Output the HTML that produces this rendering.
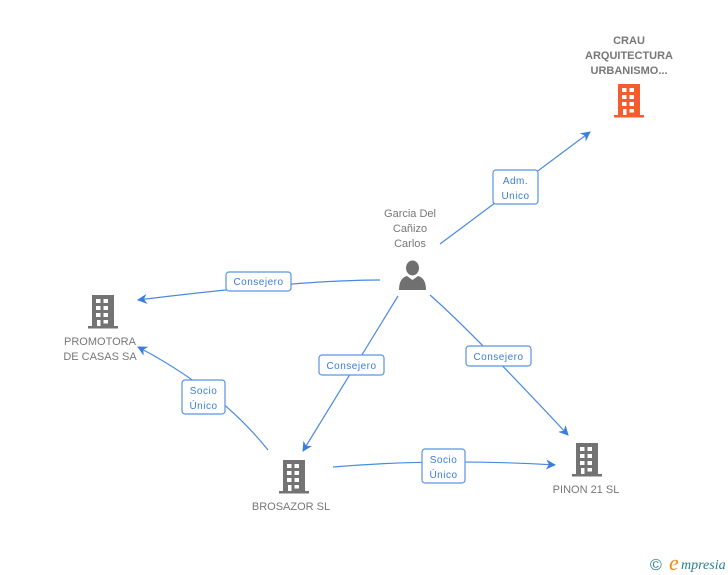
<!DOCTYPE html>
<html><head><meta charset="utf-8"><style>
html,body{margin:0;padding:0;background:#fff;}
svg{display:block;font-family:"Liberation Sans",sans-serif;}
.lbl{font-size:11px;fill:#777;text-anchor:middle;}
.el{font-size:10px;fill:#3b7ddd;text-anchor:middle;letter-spacing:0.5px;}
.box{fill:#fff;stroke:#5b93e0;stroke-width:1.2;}
.ln{stroke:#4a8ae0;stroke-width:1.2;fill:none;}
</style></head><body>
<svg width="728" height="575" viewBox="0 0 728 575" xmlns="http://www.w3.org/2000/svg">
<defs>
<symbol id="b" viewBox="0 0 30 34">
<path d="M4 0H26V31H4Z M0 31H30V33.5H0Z"/>
<g fill="#fff">
<rect x="8" y="4" width="4.5" height="4"/><rect x="15.5" y="4" width="4.5" height="4"/>
<rect x="8" y="11" width="4.5" height="4"/><rect x="15.5" y="11" width="4.5" height="4"/>
<rect x="8" y="18" width="4.5" height="4"/><rect x="15.5" y="18" width="4.5" height="4"/>
<rect x="9" y="25" width="3.5" height="6"/><rect x="15.5" y="25" width="4.5" height="3.5"/>
</g>
</symbol>
<marker id="a" markerWidth="10" markerHeight="10" refX="9" refY="5" orient="auto" markerUnits="userSpaceOnUse">
<path d="M0,0 L10,5 L0,10 L3,5Z" fill="#3b7ddd"/>
</marker>
</defs>

<path class="ln" d="M440 244 L590 132" marker-end="url(#a)"/>
<path class="ln" d="M380 280 Q300 280 138 300" marker-end="url(#a)"/>
<path class="ln" d="M398 296 L303 451" marker-end="url(#a)"/>
<path class="ln" d="M430 295 Q470 330 568 435" marker-end="url(#a)"/>
<path class="ln" d="M268 450 Q220 390 138 347" marker-end="url(#a)"/>
<path class="ln" d="M333 467 Q440 458 555 465" marker-end="url(#a)"/>

<rect class="box" x="493" y="170" width="45" height="34" rx="3"/>
<text class="el" x="515.5" y="184">Adm.</text><text class="el" x="515.5" y="199">Unico</text>
<rect class="box" x="226" y="272" width="65" height="19" rx="3"/>
<text class="el" x="258.5" y="285">Consejero</text>
<rect class="box" x="319" y="355" width="65" height="20" rx="3"/>
<text class="el" x="351.5" y="369">Consejero</text>
<rect class="box" x="466" y="346" width="65" height="20" rx="3"/>
<text class="el" x="498.5" y="360">Consejero</text>
<rect class="box" x="182" y="380" width="43" height="34" rx="3"/>
<text class="el" x="203.5" y="394">Socio</text><text class="el" x="203.5" y="409">Único</text>
<rect class="box" x="422" y="449" width="43" height="34" rx="3"/>
<text class="el" x="443.5" y="463">Socio</text><text class="el" x="443.5" y="478">Único</text>

<text class="lbl" x="629" y="44" style="font-weight:bold">CRAU</text>
<text class="lbl" x="629" y="59" style="font-weight:bold">ARQUITECTURA</text>
<text class="lbl" x="629" y="74" style="font-weight:bold">URBANISMO...</text>
<use href="#b" x="614" y="84" width="30" height="34" fill="#f55c2f"/>

<text class="lbl" x="410" y="217">Garcia Del</text>
<text class="lbl" x="410" y="232">Cañizo</text>
<text class="lbl" x="410" y="247">Carlos</text>
<g fill="#707070">
<ellipse cx="412.5" cy="268" rx="6.5" ry="7.5"/>
<path d="M399 290 Q399 278 407 276 L412.5 280 L418 276 Q426 278 426 290Z"/>
</g>

<use href="#b" x="88" y="295" width="30" height="34" fill="#737373"/>
<text class="lbl" x="100" y="345">PROMOTORA</text>
<text class="lbl" x="100" y="360">DE CASAS SA</text>

<use href="#b" x="279" y="460" width="30" height="34" fill="#737373"/>
<text class="lbl" x="291" y="510">BROSAZOR SL</text>

<use href="#b" x="572" y="443" width="30" height="34" fill="#737373"/>
<text class="lbl" x="586" y="493">PINON 21 SL</text>

<text x="650" y="570" style="font-size:16px;fill:#2a7f8f">©</text>
<text x="669" y="570" style="font-size:22px;fill:#f08a1c;font-style:italic;font-family:'Liberation Serif',serif">e</text>
<text x="681" y="569" style="font-size:14px;fill:#2a7f8f;font-style:italic;font-family:'Liberation Serif',serif">mpresia</text>
</svg>
</body></html>
